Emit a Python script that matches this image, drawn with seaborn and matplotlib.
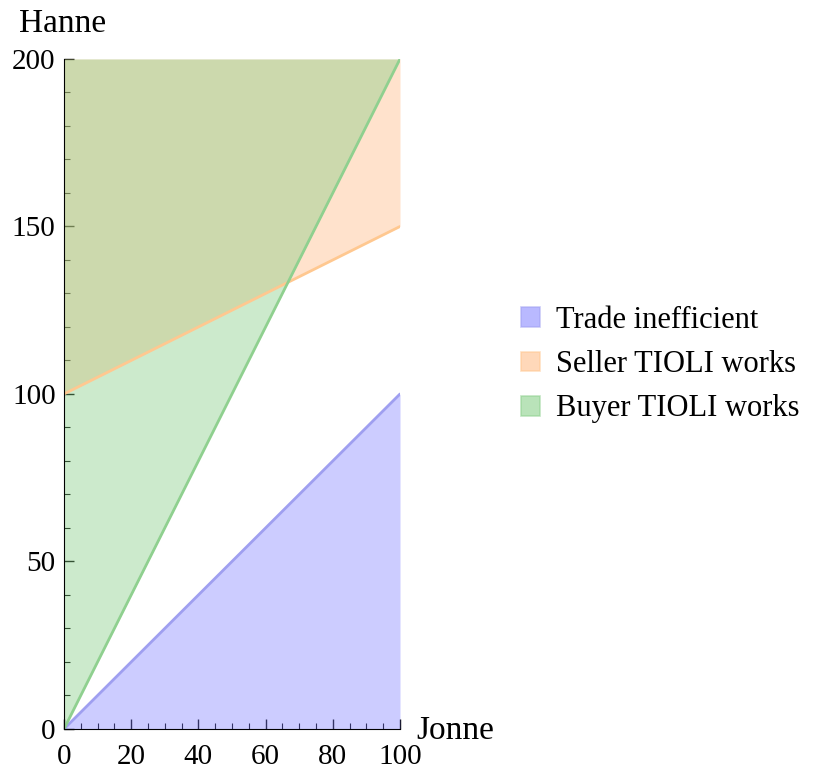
import numpy as np
import pandas as pd
import matplotlib
matplotlib.use("Agg")
import matplotlib.pyplot as plt
import seaborn as sns
from matplotlib.patches import Patch
from matplotlib.ticker import MultipleLocator

# Jonne's value on x, Hanne's value on y
jonne = [0, 100]
inefficient_upper = [0, 100]     # y = x
seller_lower = [100, 150]        # y = 100 + x/2
buyer_lower = [0, 200]           # y = 2x
hanne_max = [200, 200]

labels = ["Trade inefficient", "Seller TIOLI works", "Buyer TIOLI works"]
fills = [(0.5, 0.5, 1.0), (1.0, 0.72, 0.5), (0.5, 0.8, 0.5)]
edges = ["#9f9ff0", "#ffc890", "#8fd08f"]

sns.set_style("ticks")
plt.rcParams["font.family"] = ["Liberation Serif", "DejaVu Serif"]
plt.rcParams.update({"text.color": "black", "axes.edgecolor": "black",
                     "xtick.color": "black", "ytick.color": "black",
                     "axes.labelcolor": "black"})

fig = plt.figure(figsize=(8.16, 7.71), dpi=100)
ax = fig.add_axes([0.0784, 0.0545, 0.4118, 0.869])

df = pd.DataFrame({"jonne": jonne, "ineff": inefficient_upper,
                   "seller": seller_lower, "buyer": buyer_lower, "top": hanne_max})

ax.fill_between(df["jonne"], 0, df["ineff"], color=fills[0], alpha=0.4, lw=0)
ax.fill_between(df["jonne"], df["seller"], df["top"], color=fills[1], alpha=0.4, lw=0)
ax.fill_between(df["jonne"], df["buyer"], df["top"], color=fills[2], alpha=0.4, lw=0)

sns.lineplot(data=df, x="jonne", y="ineff", color=edges[0], lw=2, ax=ax)
sns.lineplot(data=df, x="jonne", y="seller", color=edges[1], lw=2, ax=ax)
sns.lineplot(data=df, x="jonne", y="buyer", color=edges[2], lw=2, ax=ax)

ax.set_xlim(0, 100)
ax.set_ylim(0, 200)
sns.despine(ax=ax)
ax.xaxis.set_major_locator(MultipleLocator(20))
ax.xaxis.set_minor_locator(MultipleLocator(5))
ax.yaxis.set_major_locator(MultipleLocator(50))
ax.yaxis.set_minor_locator(MultipleLocator(10))
ax.tick_params(which="major", direction="in", length=7, width=1, labelsize=21, pad=6)
ax.tick_params(axis="x", which="major", pad=11)
ax.tick_params(which="minor", direction="in", length=4, width=0.8)
ax.set_xlabel("")
ax.set_ylabel("")
ax.text(1.05, -0.003, "Jonne", transform=ax.transAxes, fontsize=24, va="center", ha="left")
ax.text(-0.005, 1.03, "Hanne", transform=ax.transAxes, fontsize=24, va="bottom", ha="center")

handles = [Patch(facecolor=f, alpha=0.55, edgecolor=e, lw=1.2) for f, e in zip(fills, edges)]
fig.legend(handles, labels, loc="center left", bbox_to_anchor=(0.624, 0.527),
           frameon=False, fontsize=22, handlelength=0.62, handleheight=0.62,
           handletextpad=0.5, labelspacing=0.5, borderaxespad=0)

fig.savefig("out.png", dpi=100)
